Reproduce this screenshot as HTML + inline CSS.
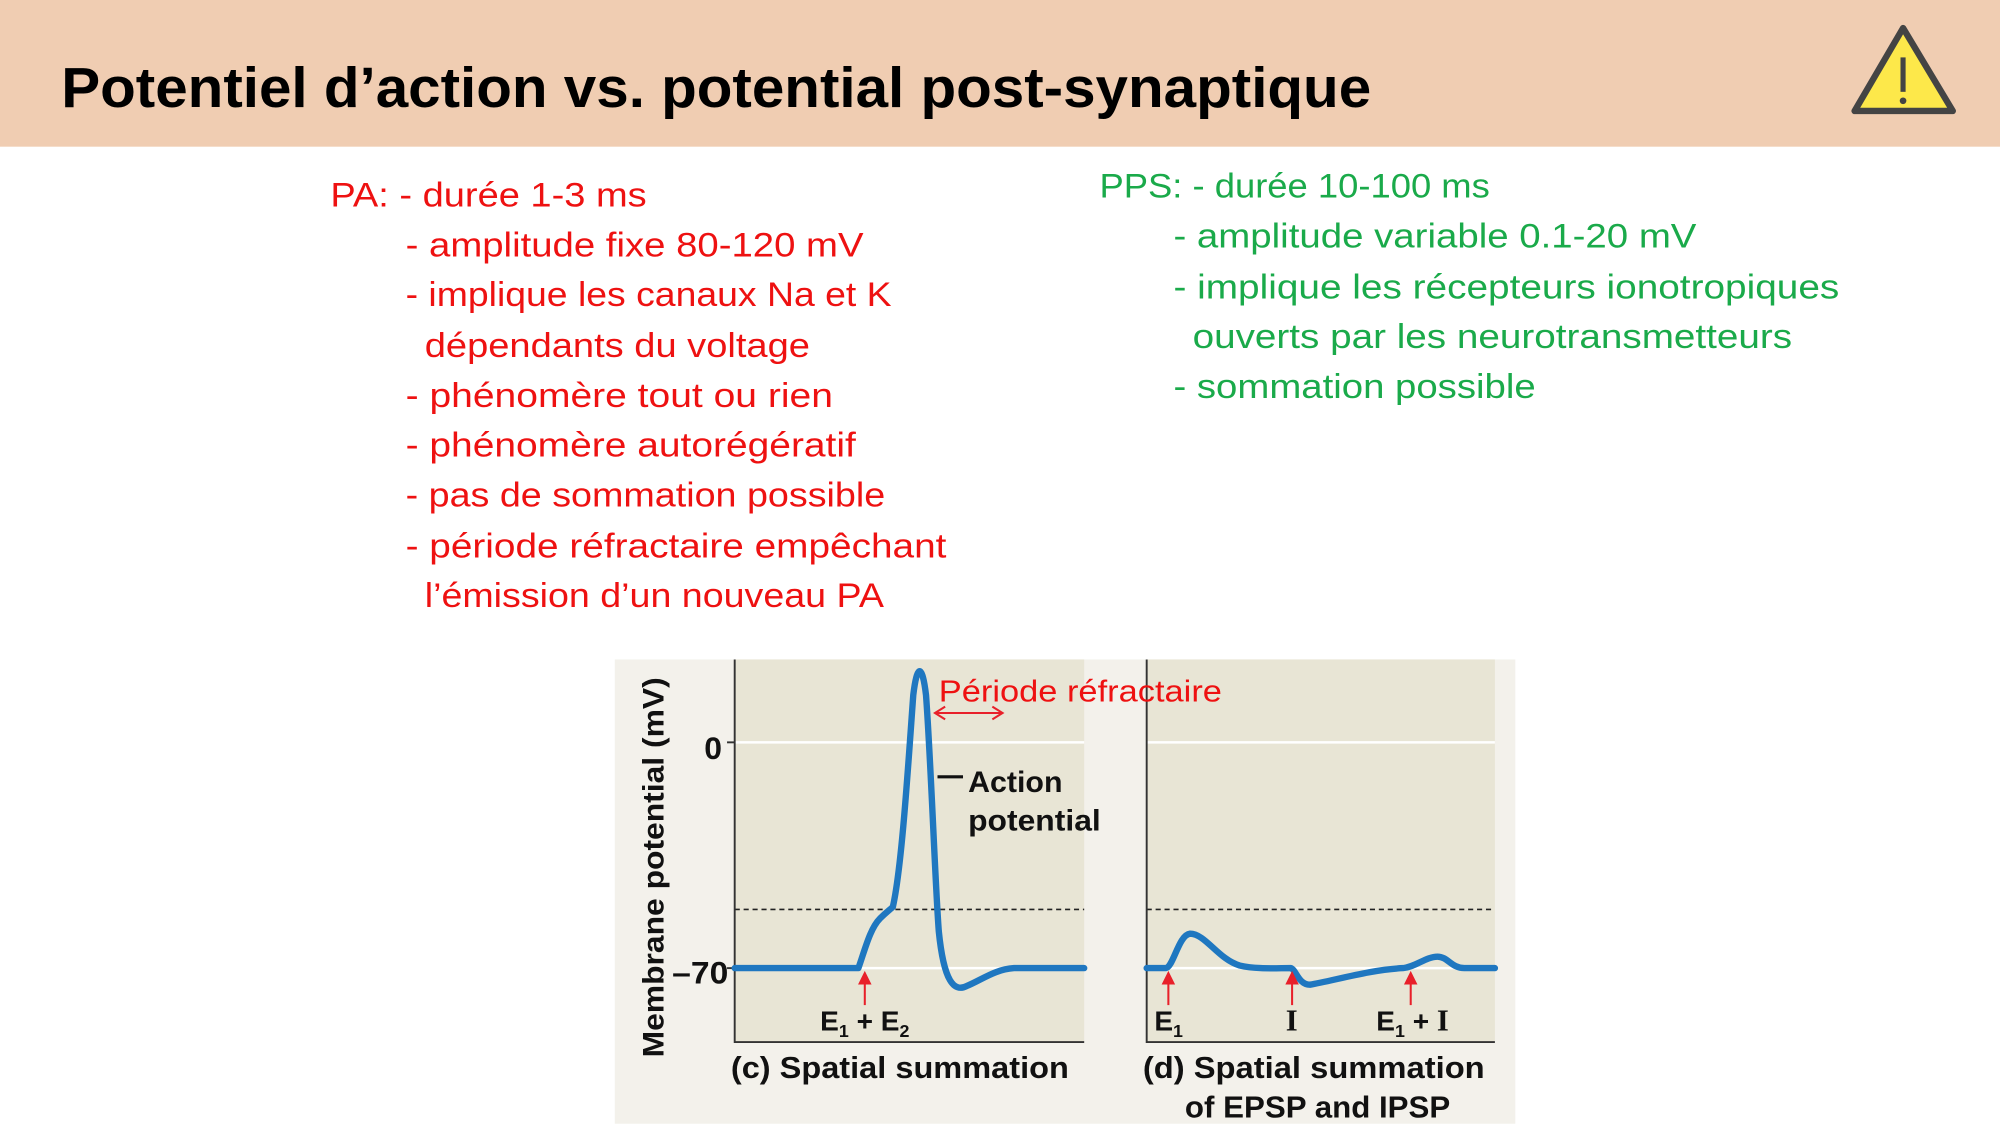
<!DOCTYPE html>
<html><head><meta charset="utf-8"><style>html,body{margin:0;padding:0;background:#fff}svg{display:block}</style></head>
<body>
<svg width="2000" height="1125" viewBox="0 0 1568 882" xmlns="http://www.w3.org/2000/svg">
<rect x="0" y="0" width="1568" height="882" fill="#fff"/>
<rect x="0" y="0" width="1568" height="115" fill="#f0cdb2"/>
<text x="48" y="84" font-family="Liberation Sans, sans-serif" font-weight="bold" font-size="44" textLength="1027" lengthAdjust="spacingAndGlyphs" fill="#000">Potentiel d’action vs. potential post-synaptique</text>
<polygon points="1492,22 1454,87 1531,87" fill="#fde84a" stroke="#444" stroke-width="5" stroke-linejoin="round"/>
<line x1="1492" y1="45" x2="1492" y2="72" stroke="#444" stroke-width="4"/>
<circle cx="1492" cy="79" r="2.6" fill="#444"/>
<g font-family="Liberation Sans, sans-serif" font-size="27" fill="#ee1111">
<text x="259" y="162" textLength="248" lengthAdjust="spacingAndGlyphs">PA:  - durée 1-3 ms</text>
<text x="318" y="201" textLength="359" lengthAdjust="spacingAndGlyphs">- amplitude fixe 80-120 mV</text>
<text x="318" y="240" textLength="381" lengthAdjust="spacingAndGlyphs">- implique les canaux Na et K</text>
<text x="333" y="280" textLength="302" lengthAdjust="spacingAndGlyphs">dépendants du voltage</text>
<text x="318" y="319" textLength="335" lengthAdjust="spacingAndGlyphs">- phénomère tout ou rien</text>
<text x="318" y="358" textLength="353" lengthAdjust="spacingAndGlyphs">- phénomère autorégératif</text>
<text x="318" y="397" textLength="376" lengthAdjust="spacingAndGlyphs">- pas de sommation possible</text>
<text x="318" y="437" textLength="424" lengthAdjust="spacingAndGlyphs">- période réfractaire empêchant</text>
<text x="333" y="476" textLength="360" lengthAdjust="spacingAndGlyphs">l’émission d’un nouveau PA</text>
</g>
<g font-family="Liberation Sans, sans-serif" font-size="27" fill="#1aaa4a">
<text x="862" y="155" textLength="306" lengthAdjust="spacingAndGlyphs">PPS: - durée 10-100 ms</text>
<text x="920" y="194" textLength="410" lengthAdjust="spacingAndGlyphs">- amplitude variable 0.1-20 mV</text>
<text x="920" y="234" textLength="522" lengthAdjust="spacingAndGlyphs">- implique les récepteurs ionotropiques</text>
<text x="935" y="273" textLength="470" lengthAdjust="spacingAndGlyphs">ouverts par les neurotransmetteurs</text>
<text x="920" y="312" textLength="284" lengthAdjust="spacingAndGlyphs">- sommation possible</text>
</g>
<rect x="482" y="517" width="706" height="364" fill="#f3f1eb"/>
<rect x="576" y="517" width="274" height="300" fill="#e8e5d5"/>
<rect x="899" y="517" width="273" height="300" fill="#e8e5d5"/>
<g stroke="#fff" stroke-width="2">
<line x1="576" y1="582" x2="850" y2="582"/><line x1="899" y1="582" x2="1172" y2="582"/>
<line x1="576" y1="759" x2="850" y2="759"/><line x1="899" y1="759" x2="1172" y2="759"/>
</g>
<g stroke="#222" stroke-width="1.2" stroke-dasharray="4,3">
<line x1="576" y1="713" x2="850" y2="713"/><line x1="899" y1="713" x2="1172" y2="713"/>
</g>
<g stroke="#333" stroke-width="1.5" fill="none">
<polyline points="576,517 576,817 850,817"/>
<polyline points="899,517 899,817 1172,817"/>
<line x1="570" y1="582" x2="576" y2="582"/><line x1="570" y1="759" x2="576" y2="759"/>
</g>
<g stroke="#1f77c0" stroke-width="5" fill="none" stroke-linejoin="round" stroke-linecap="round">
<path d="M576,759 L673,759 C678,745 682,728 690,720 C695,715 698,713 700,711 C707,680 712,600 716,545 C719,520 723,520 726,545 C730,600 733,690 736,730 C740,770 748,778 758,773 C770,768 780,760 795,759 L850,759"/>
<path d="M899,759 L914,759 C920,758 924,733 933,732 C945,732 955,752 972,757 C985,760 1000,759 1012,759 C1016,760 1018,772 1027,772 C1045,769 1075,760 1100,759 C1110,758 1118,750 1127,750 C1135,750 1138,759 1148,759 L1172,759"/>
</g>
<g stroke="#e8202a" stroke-width="1.6" fill="#e8202a">
<line x1="678" y1="788" x2="678" y2="768"/><polygon points="674,771 678,763 682,771"/>
<line x1="916" y1="788" x2="916" y2="768"/><polygon points="912,771 916,763 920,771"/>
<line x1="1013" y1="788" x2="1013" y2="768"/><polygon points="1009,771 1013,763 1017,771"/>
<line x1="1106" y1="788" x2="1106" y2="768"/><polygon points="1102,771 1106,763 1110,771"/>
<line x1="733" y1="559" x2="786" y2="559" fill="none"/>
<polyline points="741,554 733,559 741,564" fill="none"/><polyline points="778,554 786,559 778,564" fill="none"/>
</g>
<line x1="735" y1="609" x2="755" y2="609" stroke="#111" stroke-width="2.5"/>
<g font-family="Liberation Sans, sans-serif" font-weight="bold" fill="#111">
<text x="566" y="595" font-size="25" text-anchor="end">0</text>
<text x="571" y="771" font-size="25" text-anchor="end" textLength="44" lengthAdjust="spacingAndGlyphs">–70</text>
<text transform="translate(520,680) rotate(-90)" font-size="23" text-anchor="middle" textLength="298" lengthAdjust="spacingAndGlyphs">Membrane potential (mV)</text>
<text x="759" y="621" font-size="23" textLength="74" lengthAdjust="spacingAndGlyphs">Action</text>
<text x="759" y="651" font-size="23" textLength="104" lengthAdjust="spacingAndGlyphs">potential</text>
<text x="643" y="808" font-size="22">E<tspan font-size="14" dy="5">1</tspan><tspan dy="-5"> + E</tspan><tspan font-size="14" dy="5">2</tspan></text>
<text x="905" y="808" font-size="22">E<tspan font-size="14" dy="5">1</tspan></text>
<text x="1008" y="808" font-size="24" font-family="Liberation Serif, serif">I</text>
<text x="1079" y="808" font-size="22">E<tspan font-size="14" dy="5">1</tspan><tspan dy="-5"> + </tspan><tspan font-family="Liberation Serif, serif" font-size="24">I</tspan></text>
<text x="573" y="845" font-size="24" textLength="265" lengthAdjust="spacingAndGlyphs">(c) Spatial summation</text>
<text x="896" y="845" font-size="24" textLength="268" lengthAdjust="spacingAndGlyphs">(d) Spatial summation</text>
<text x="929" y="876" font-size="24" textLength="208" lengthAdjust="spacingAndGlyphs">of EPSP and IPSP</text>
</g>
<text x="736" y="550" font-family="Liberation Sans, sans-serif" font-size="24" fill="#ee1111" textLength="222" lengthAdjust="spacingAndGlyphs">Période réfractaire</text>
</svg>
</body></html>
